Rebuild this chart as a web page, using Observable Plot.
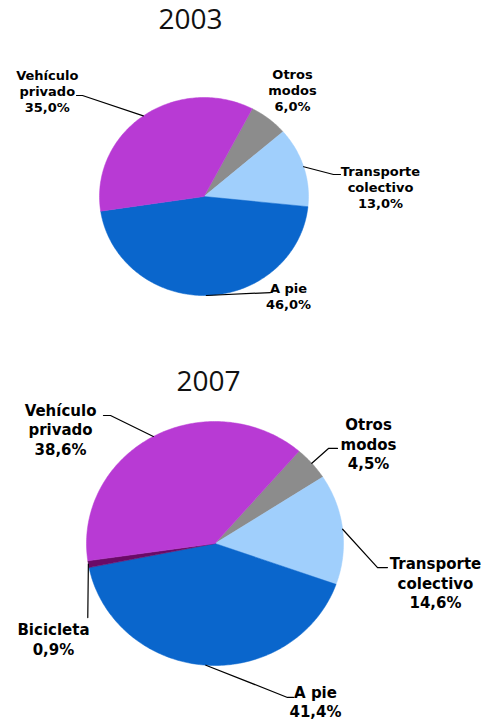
<!DOCTYPE html>
<html>
<head>
<meta charset="utf-8">
<script src="https://cdn.jsdelivr.net/npm/d3@7"></script>
<script src="https://cdn.jsdelivr.net/npm/@observablehq/plot@0.6"></script>
<style>
  html, body { margin: 0; padding: 0; background: #fff; }
  #chart svg { display: block; }
</style>
</head>
<body>
<div id="chart"></div>
<script>
// ---- Data ----
const modes2003 = ["Otros modos", "Transporte colectivo", "A pie", "Vehículo privado"];
const labels2003 = ["Otros\nmodos", "Transporte\ncolectivo", "A pie", "Vehículo\nprivado"];
const shares2003 = [6.0, 13.0, 46.0, 35.0];

const modes2007 = ["Otros modos", "Transporte colectivo", "A pie", "Bicicleta", "Vehículo privado"];
const labels2007 = ["Otros\nmodos", "Transporte\ncolectivo", "A pie", "Bicicleta", "Vehículo\nprivado"];
const shares2007 = [4.5, 14.6, 41.4, 0.9, 38.6];

const years = ["2003", "2007"];

// ---- Styles / layout (not data) ----
const colors = {
  "Otros modos": "#8c8c8c",
  "Transporte colectivo": "#a0cffc",
  "A pie": "#0a66cc",
  "Bicicleta": "#6a0a66",
  "Vehículo privado": "#b83ad4"
};

const layouts = [
  {
    width: 491, height: 345, margin: [97, 183, 50, 99], startDeg: 27.5,
    fontSize: 13, lineHeight: 1.23, title: [-0.13, 1.78],
    labelPos: {
      "Otros modos": [0.847, 1.08],
      "Transporte colectivo": [1.689, 0.10],
      "A pie": [0.809, -1.0],
      "Vehículo privado": [-1.50, 1.07]
    },
    leader: {
      "Transporte colectivo": [[1.239, 0.222], [1.306, 0.222]],
      "A pie": [[0.636, -0.97]],
      "Vehículo privado": [[-1.163, 1.02], [-1.22, 1.02]]
    }
  },
  {
    width: 491, height: 375, margin: [76, 148, 55, 86], startDeg: 40.8,
    fontSize: 15, lineHeight: 1.3, title: [-0.05, 1.32],
    labelPos: {
      "Otros modos": [1.195, 0.82],
      "Transporte colectivo": [1.716, -0.32],
      "A pie": [0.782, -1.295],
      "Bicicleta": [-1.257, -0.779],
      "Vehículo privado": [-1.202, 0.937]
    },
    leader: {
      "Otros modos": [[0.883, 0.779], [0.953, 0.779]],
      "Transporte colectivo": [[1.265, -0.197], [1.342, -0.197]],
      "A pie": [[0.564, -1.262], [0.611, -1.262]],
      "Bicicleta": [[-0.99, -0.607]],
      "Vehículo privado": [[-0.813, 1.049], [-0.868, 1.049]]
    }
  }
];

const fmt = v => d3.format(".1f")(v).replace(".", ",") + "%";

function makePie(modes, labels, shares, year, L) {
  const start = L.startDeg * Math.PI / 180;
  const arcs = d3.pie().sort(null).startAngle(start).endAngle(start + 2 * Math.PI)(shares);
  // slice polygons (angle measured clockwise from 12 o'clock)
  const poly = [];
  arcs.forEach((a, i) => {
    const m = modes[i];
    poly.push({mode: m, x: 0, y: 0});
    const n = Math.max(2, Math.ceil((a.endAngle - a.startAngle) / (Math.PI / 180)));
    for (let k = 0; k <= n; k++) {
      const t = a.startAngle + (a.endAngle - a.startAngle) * k / n;
      poly.push({mode: m, x: Math.sin(t), y: Math.cos(t)});
    }
    poly.push({mode: m, x: 0, y: 0});
  });
  // leader lines
  const lead = [];
  arcs.forEach((a, i) => {
    const m = modes[i];
    const pts = L.leader[m];
    if (!pts) return;
    const mid = (a.startAngle + a.endAngle) / 2;
    lead.push({mode: m, x: Math.sin(mid), y: Math.cos(mid)});
    pts.forEach(p => lead.push({mode: m, x: p[0], y: p[1]}));
  });
  const lab = modes.map((m, i) => ({
    mode: m, text: labels[i] + "\n" + fmt(shares[i]),
    x: L.labelPos[m][0], y: L.labelPos[m][1]
  }));
  return Plot.plot({
    width: L.width, height: L.height,
    marginTop: L.margin[0], marginRight: L.margin[1], marginBottom: L.margin[2], marginLeft: L.margin[3],
    x: {domain: [-1, 1], axis: null},
    y: {domain: [-1, 1], axis: null},
    color: {domain: Object.keys(colors), range: Object.values(colors)},
    marks: [
      Plot.line(poly, {x: "x", y: "y", z: "mode", fill: "mode", stroke: "mode", strokeWidth: 0.5, curve: "linear"}),
      Plot.line(lead, {x: "x", y: "y", z: "mode", stroke: "#000", strokeWidth: 1.2}),
      Plot.text(lab, {x: "x", y: "y", text: "text", fill: "#000", fontSize: L.fontSize,
        fontWeight: "bold", fontFamily: "DejaVu Sans", lineHeight: L.lineHeight, lineAnchor: "middle"}),
      Plot.text([year], {x: () => L.title[0], y: () => L.title[1], text: d => d, fontSize: 28,
        fontFamily: "Open Sans", fill: "#111", lineAnchor: "middle"})
    ]
  });
}

const chart = document.getElementById("chart");
chart.append(makePie(modes2003, labels2003, shares2003, years[0], layouts[0]));
chart.append(makePie(modes2007, labels2007, shares2007, years[1], layouts[1]));
</script>
</body>
</html>
